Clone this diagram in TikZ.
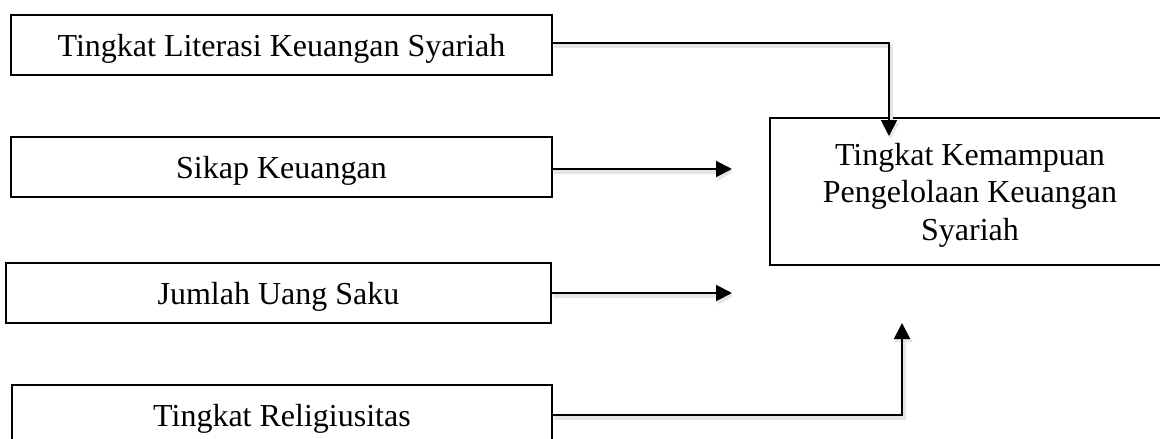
\documentclass[tikz,border=0pt]{standalone}
\usepackage{fontspec}
\setmainfont{Liberation Serif}
\usetikzlibrary{arrows.meta,calc}
\newcommand{\txtdown}[1]{\raisebox{-4pt}[\height][\depth]{#1}}
\tikzset{
  varbox/.style={draw=black, line width=1.9pt, rectangle, inner sep=0pt,
    minimum height=60pt, font=\fontsize{32}{37.5}\selectfont, anchor=north west},
  conn/.style={draw=black, line width=2pt, -{Triangle[length=16pt,width=16pt]}},
  connshadow/.style={draw=black!10, line width=4pt, -{Triangle[length=16pt,width=17pt]},
    transform canvas={xshift=1.5pt,yshift=-3pt}},
}
\begin{document}
\begin{tikzpicture}[x=1pt,y=-1pt]
\useasboundingbox (0,0) rectangle (1160,439);
\clip (0,0) rectangle (1160,439);
\fill[white] (0,0) rectangle (1160,439);
% input boxes
\node[varbox, minimum width=541pt] (b1) at (10,14) {\txtdown{Tingkat Literasi Keuangan Syariah}};
\node[varbox, minimum width=541pt] (b2) at (10,136) {\txtdown{Sikap Keuangan}};
\node[varbox, minimum width=545pt] (b3) at (5,262) {\txtdown{Jumlah Uang Saku}};
\node[varbox, minimum width=540pt] (b4) at (11,384) {\txtdown{Tingkat Religiusitas}};
% outcome box
\node[varbox, minimum width=420pt, minimum height=147pt] (out) at (769,117) {};
\node[align=center, inner sep=0pt, font=\fontsize{32}{37.5}\selectfont] (outlabel) at (970,195)
  {Tingkat Kemampuan\\Pengelolaan Keuangan\\Syariah};
% arrow end points
\coordinate (t1) at (889,136);
\coordinate (t2) at (732,169);
\coordinate (t3) at (732,293);
\coordinate (t4) at (902,323);
% soft shadows
\draw[connshadow] ([yshift=2pt]b1.east) -| (t1);
\draw[connshadow] (b2.east |- t2) -- (t2);
\draw[connshadow] (b3.east |- t3) -- (t3);
\draw[connshadow] (b4.east |- 0,415) -| (t4);
% connectors
\draw[conn] ([yshift=2pt]b1.east) -| (t1);
\draw[conn] (b2.east |- t2) -- (t2);
\draw[conn] (b3.east |- t3) -- (t3);
\draw[conn] (b4.east |- 0,415) -| (t4);
\end{tikzpicture}
\end{document}
